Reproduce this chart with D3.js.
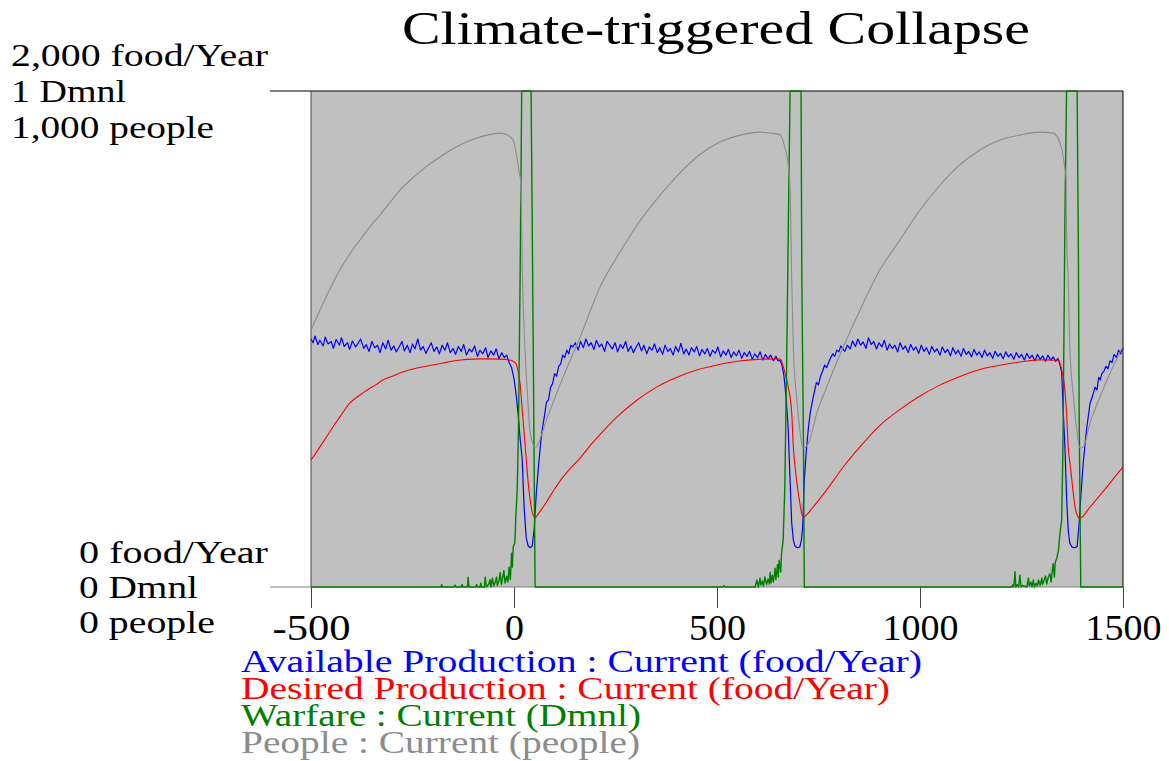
<!DOCTYPE html>
<html>
<head>
<meta charset="utf-8">
<script src="https://cdn.jsdelivr.net/npm/d3@7"></script>
<style>
  body { margin: 0; background: #fff; }
  svg text { font-family: "Liberation Serif", "Times New Roman", serif; }
</style>
</head>
<body>
<svg id="chart" width="1169" height="761"></svg>
<script>
// values: [year, value]
var xTicks = [-500, 0, 500, 1000, 1500];

var availableProduction = [
  [-500,1000],[-495,985],[-490,1012],[-483,978],[-478,995],[-470,972],[-465,1008],[-458,980],[-450,990],[-445,962],
  [-438,998],[-430,975],[-425,1005],[-418,970],[-410,985],[-405,958],[-398,992],[-390,968],[-385,980],[-378,1000],
  [-370,962],[-364,978],[-357,950],[-350,990],[-343,965],[-336,975],[-330,945],[-323,985],[-316,960],[-310,995],
  [-303,955],[-296,972],[-290,948],[-283,968],[-276,990],[-270,952],[-263,975],[-256,945],[-250,980],[-244,960],
  [-237,1000],[-230,955],[-224,970],[-217,942],[-210,965],[-204,985],[-197,950],[-190,968],[-184,940],[-177,975],
  [-170,955],[-164,985],[-157,945],[-150,962],[-144,938],[-137,970],[-130,950],[-124,978],[-117,935],[-110,960],
  [-104,948],[-97,972],[-90,930],[-84,955],[-77,940],[-70,965],[-64,925],[-57,952],[-50,935],[-44,960],
  [-37,920],[-30,945],[-24,925],[-18,935],[-12,905],[-6,885],
  [0,840],[5,780],[10,700],[15,600],[20,520],[25,320],[30,200],[35,165],[40,158],[45,166],[50,240],[55,380],
  [60,480],[65,570],[70,640],[75,690],[80,745],[85,755],[90,805],[95,820],[100,860],[105,850],[110,890],[115,900],
  [120,935],[125,925],[130,955],[135,940],[140,975],
  [145,968],[151,985],[158,955],[164,990],[171,965],[177,1000],[184,972],[190,985],[197,958],[203,995],
  [210,968],[216,980],[223,950],[229,990],[236,975],[242,960],[249,985],[255,948],[262,978],[268,962],
  [275,990],[281,950],[288,972],[294,945],[301,968],[307,985],[314,952],[320,975],[327,940],[333,968],
  [340,955],[346,980],[353,945],[359,965],[366,938],[372,975],[379,950],[385,962],[392,935],[398,970],
  [405,948],[411,982],[418,940],[424,960],[431,935],[437,965],[444,948],[450,970],[457,932],[463,958],
  [470,940],[476,962],[483,930],[489,955],[496,942],[502,968],[509,928],[515,952],[522,935],[528,958],
  [535,925],[541,948],[548,932],[554,955],[561,922],[567,945],[574,930],[580,950],[587,918],[593,940],
  [600,925],[606,948],[613,915],[619,938],[626,920],[632,935],[639,912],[645,930],
  [650,912],[655,915],[660,895],[665,850],[670,766],[675,650],[680,431],[684,258],[688,190],
  [692,165],[698,158],[704,162],[708,190],[711,242],[715,431],[720,550],[725,640],[730,705],[737,766],
  [745,825],[750,815],[755,850],[760,870],[765,895],[770,885],[775,905],[780,925],[785,940],[790,930],[795,955],
  [800,948],[805,972],
  [815,950],[821,975],[828,960],[834,992],[841,970],[847,1000],[854,975],[860,988],[867,962],[873,1005],
  [880,978],[886,990],[893,960],[899,985],[906,968],[912,995],[919,955],[925,980],[932,962],[938,975],
  [945,948],[951,985],[958,958],[964,972],[971,945],[977,978],[984,955],[990,968],[997,942],[1003,975],
  [1010,950],[1016,965],[1023,938],[1029,970],[1036,948],[1042,960],[1049,935],[1055,968],[1062,945],[1068,958],
  [1075,932],[1081,965],[1088,940],[1094,955],[1101,930],[1107,962],[1114,938],[1120,950],[1127,928],[1133,958],
  [1140,935],[1146,948],[1153,925],[1159,955],[1166,932],[1172,945],[1179,922],[1185,950],[1192,930],[1198,942],
  [1205,920],[1211,948],[1218,928],[1224,940],[1231,918],[1237,945],[1244,925],[1250,938],[1257,915],[1263,942],
  [1270,922],[1276,935],[1283,912],[1289,938],[1296,918],[1302,932],[1309,910],[1315,935],[1322,915],[1328,928],
  [1334,910],[1340,922],[1345,895],[1349,865],[1353,702],[1357,565],[1361,363],[1365,230],
  [1369,177],[1374,162],[1380,158],[1387,163],[1392,258],[1396,363],[1402,500],[1410,633],[1419,742],[1425,770],
  [1431,806],[1436,795],[1440,845],[1444,835],[1448,860],[1453,870],[1458,890],[1463,880],[1468,912],[1473,905],
  [1478,938],[1484,925],[1489,955],[1494,940],[1500,968]
];

var desiredProduction = [
  [-500,512],[-480,560],[-460,610],[-446,645],[-425,695],[-404,742],[-383,770],[-362,794],[-340,816],[-323,835],
  [-300,850],[-281,863],[-260,874],[-239,883],[-220,889],[-200,895],[-175,903],[-150,911],[-116,918],[-80,920],
  [-34,919],[-10,915],[0,908],[5,900],[10,870],[15,820],[20,720],[25,620],[30,520],[35,420],[40,350],[45,300],
  [50,283],[53,280],[60,295],[81,345],[100,395],[121,444],[140,480],[163,520],[190,575],[212,615],[250,680],
  [300,750],[350,805],[400,845],[450,875],[500,895],[550,910],[600,918],[650,920],[658,915],[663,890],[668,860],
  [672,835],[676,800],[680,766],[684,702],[688,565],[692,490],[696,431],[700,380],[704,339],[708,300],[712,282],
  [737,323],[770,391],[811,484],[852,565],[900,650],[950,715],[1000,770],[1050,815],[1100,850],[1150,878],
  [1200,895],[1250,908],[1300,916],[1341,915],[1349,875],[1357,794],[1361,702],[1365,565],[1370,490],[1374,431],
  [1382,323],[1390,282],[1394,278],[1419,323],[1460,403],[1500,484]
];

var warfare = [
  [-500,0],[-180,0],[-178,0.005],[-176,0],[-147,0],[-145,0.004],[-143,0],[-130,0],[-128,0.005],[-126,0],
  [-115,0],[-113,0.02],[-111,0],[-94,0],[-92,0.005],[-90,0],[-84,0],[-82,0.008],[-80,0],[-73,0],[-71,0.02],
  [-68,0],[-62,0.006],[-59,0.015],[-57,0],[-53,0.018],[-50,0.002],[-46,0.01],[-43,0.02],[-41,0.003],[-37,0.012],
  [-34,0.029],[-31,0.005],[-28,0.018],[-25,0.033],[-22,0.008],[-18,0.022],[-15,0.01],[-12,0.04],[-9,0.015],
  [-6,0.068],[-4,0.04],[-2,0.08],[2,0.089],[5,0.15],[8,0.2],[11,0.32],[15,0.62],[19,1],[42,1],[44,0.82],
  [48,0.42],[52,0],
  [515,0],[517,0.003],[519,0],[594,0],[598,0.014],[602,0],[606,0.018],[608,0.004],[612,0.012],[614,0.002],
  [618,0.02],[622,0.005],[626,0.016],[629,0.006],[631,0.03],[633,0.008],[636,0.024],[639,0.01],[643,0.038],
  [645,0.015],[649,0.045],[651,0.02],[653,0.054],[657,0.03],[659,0.068],[663,0.095],[667,0.2],[672,0.48],
  [676,0.75],[680,1],[707,1],[709,0.62],[713,0.28],[715,0],
  [1226,0],[1228,0.004],[1231,0],[1234,0.031],[1236,0],[1240,0.005],[1243,0],[1246,0.024],[1249,0],[1253,0.003],
  [1263,0],[1267,0.018],[1269,0.002],[1273,0.01],[1276,0],[1279,0.014],[1282,0],[1286,0.008],[1289,0.002],
  [1292,0.014],[1296,0.003],[1300,0.018],[1302,0.005],[1305,0.012],[1309,0.022],[1312,0.006],[1316,0.02],
  [1320,0.027],[1323,0.01],[1326,0.034],[1328,0.047],[1331,0.02],[1333,0.05],[1337,0.058],[1341,0.074],
  [1345,0.11],[1349,0.135],[1352,0.28],[1355,0.55],[1357,0.75],[1361,1],[1387,1],[1390,0.69],[1392,0.35],
  [1396,0],[1500,0]
];

var people = [
  [-500,518],[-478,558],[-454,600],[-429,639],[-404,672],[-379,700],[-355,726],[-330,750],[-305,776],[-281,800],
  [-256,820],[-232,837],[-207,853],[-182,867],[-158,880],[-133,891],[-108,900],[-84,907],[-60,912],[-34,915],
  [-22,913],[-10,908],[-2,901],[7,867],[13,835],[16,821],[19,720],[21,619],[25,518],[30,431],[35,363],[39,317],
  [46,290],[52,280],[60,290],[80,337],[121,423],[163,504],[212,605],[261,675],[310,738],[360,790],[409,835],
  [458,872],[507,897],[557,911],[606,917],[643,914],[655,912],[667,887],[676,847],[680,806],[682,720],[684,619],
  [688,484],[696,383],[704,317],[711,280],[725,290],[746,351],[770,403],[811,484],[852,558],[901,639],[951,700],
  [1000,760],[1049,810],[1098,851],[1148,881],[1197,901],[1246,911],[1296,917],[1328,915],[1345,895],[1355,855],
  [1360,821],[1361,720],[1365,619],[1369,484],[1378,383],[1386,317],[1394,280],[1402,282],[1419,331],[1443,383],
  [1468,431],[1499,484]
];

var topLabels = ["2,000 food/Year", "1 Dmnl", "1,000 people"];
var bottomLabels = ["0 food/Year", "0 Dmnl", "0 people"];
var legendLabels = [
  "Available Production : Current (food/Year)",
  "Desired Production : Current (food/Year)",
  "Warfare : Current (Dmnl)",
  "People : Current (people)"
];
var seriesColors = ["#0000ff", "#ff0000", "#008000", "#8c8c8c"];

var plot = {left: 311, right: 1123, top: 91, bottom: 587};
var svg = d3.select("#chart");

var xScale = d3.scaleLinear().domain([-500, 1500]).range([plot.left, plot.right]);
var yFood = d3.scaleLinear().domain([0, 2000]).range([plot.bottom, plot.top]);
var yDmnl = d3.scaleLinear().domain([0, 1]).range([plot.bottom, plot.top]);
var yPeople = d3.scaleLinear().domain([0, 1000]).range([plot.bottom, plot.top]);

// title
svg.append("text")
  .attr("x", 402).attr("y", 44)
  .attr("font-size", 47)
  .attr("textLength", 628).attr("lengthAdjust", "spacingAndGlyphs")
  .text("Climate-triggered Collapse");

// plot background
svg.append("rect")
  .attr("x", plot.left).attr("y", plot.top)
  .attr("width", plot.right - plot.left).attr("height", plot.bottom - plot.top)
  .attr("fill", "#c0c0c0");

// x axis
var xAxis = svg.append("g")
  .attr("transform", "translate(0," + plot.bottom + ")")
  .call(d3.axisBottom(xScale).tickValues(xTicks).tickSize(21).tickFormat(function(d){ return String(d); }));
xAxis.select(".domain").remove();
xAxis.selectAll("line").attr("stroke", "#444");
xAxis.selectAll("text")
  .attr("y", 53).attr("dy", 0)
  .attr("fill", "#000")
  .style("font-family", "'Liberation Serif', 'Times New Roman', serif")
  .style("font-size", "36px")
  .attr("textLength", function(d){ return d < 0 ? 78 : (String(d).length * 19); })
  .attr("lengthAdjust", "spacingAndGlyphs");

// frame lines
svg.append("line").attr("x1", 270).attr("x2", plot.right).attr("y1", plot.bottom).attr("y2", plot.bottom)
  .attr("stroke", "#808080");
svg.append("line").attr("x1", 270).attr("x2", plot.right).attr("y1", plot.top).attr("y2", plot.top)
  .attr("stroke", "#000");
svg.append("line").attr("x1", plot.left).attr("x2", plot.left).attr("y1", plot.top).attr("y2", plot.bottom)
  .attr("stroke", "#444");
svg.append("line").attr("x1", plot.right).attr("x2", plot.right).attr("y1", plot.top).attr("y2", plot.bottom)
  .attr("stroke", "#000");

// left axis labels
var topWidths = [257, 115, 203];
var bottomWidths = [189, 119, 136];
svg.selectAll(".top-label")
  .data(topLabels)
  .enter().append("text")
  .attr("class", "top-label")
  .attr("x", 11)
  .attr("y", function(d, i){ return 66 + i * 36; })
  .attr("font-size", 32)
  .attr("textLength", function(d, i){ return topWidths[i]; })
  .attr("lengthAdjust", "spacingAndGlyphs")
  .text(function(d){ return d; });

svg.selectAll(".bottom-label")
  .data(bottomLabels)
  .enter().append("text")
  .attr("class", "bottom-label")
  .attr("x", 79)
  .attr("y", function(d, i){ return 563 + i * 35; })
  .attr("font-size", 32)
  .attr("textLength", function(d, i){ return bottomWidths[i]; })
  .attr("lengthAdjust", "spacingAndGlyphs")
  .text(function(d){ return d; });

// series
var lines = [
  {data: availableProduction, y: yFood, width: 1.2, curve: d3.curveLinear},
  {data: desiredProduction, y: yFood, width: 1.1, curve: d3.curveMonotoneX},
  {data: warfare, y: yDmnl, width: 1.4, curve: d3.curveLinear},
  {data: people, y: yPeople, width: 1.1, curve: d3.curveMonotoneX}
];

var lineGroup = svg.append("g").attr("class", "series");
lines.forEach(function(s, i){
  var line = d3.line()
    .curve(s.curve)
    .x(function(d){ return xScale(d[0]); })
    .y(function(d){ return s.y(d[1]); });
  lineGroup.append("path")
    .datum(s.data)
    .attr("d", line)
    .attr("fill", "none")
    .attr("stroke", seriesColors[i])
    .attr("stroke-width", s.width)
    .attr("stroke-linejoin", "round");
});

// legend
var legendWidths = [681, 649, 400, 399];
svg.selectAll(".legend")
  .data(legendLabels)
  .enter().append("text")
  .attr("class", "legend")
  .attr("x", 241)
  .attr("y", function(d, i){ return 672 + i * 27; })
  .attr("font-size", 31)
  .attr("fill", function(d, i){ return seriesColors[i]; })
  .attr("textLength", function(d, i){ return legendWidths[i]; })
  .attr("lengthAdjust", "spacingAndGlyphs")
  .text(function(d){ return d; });
</script>
</body>
</html>
